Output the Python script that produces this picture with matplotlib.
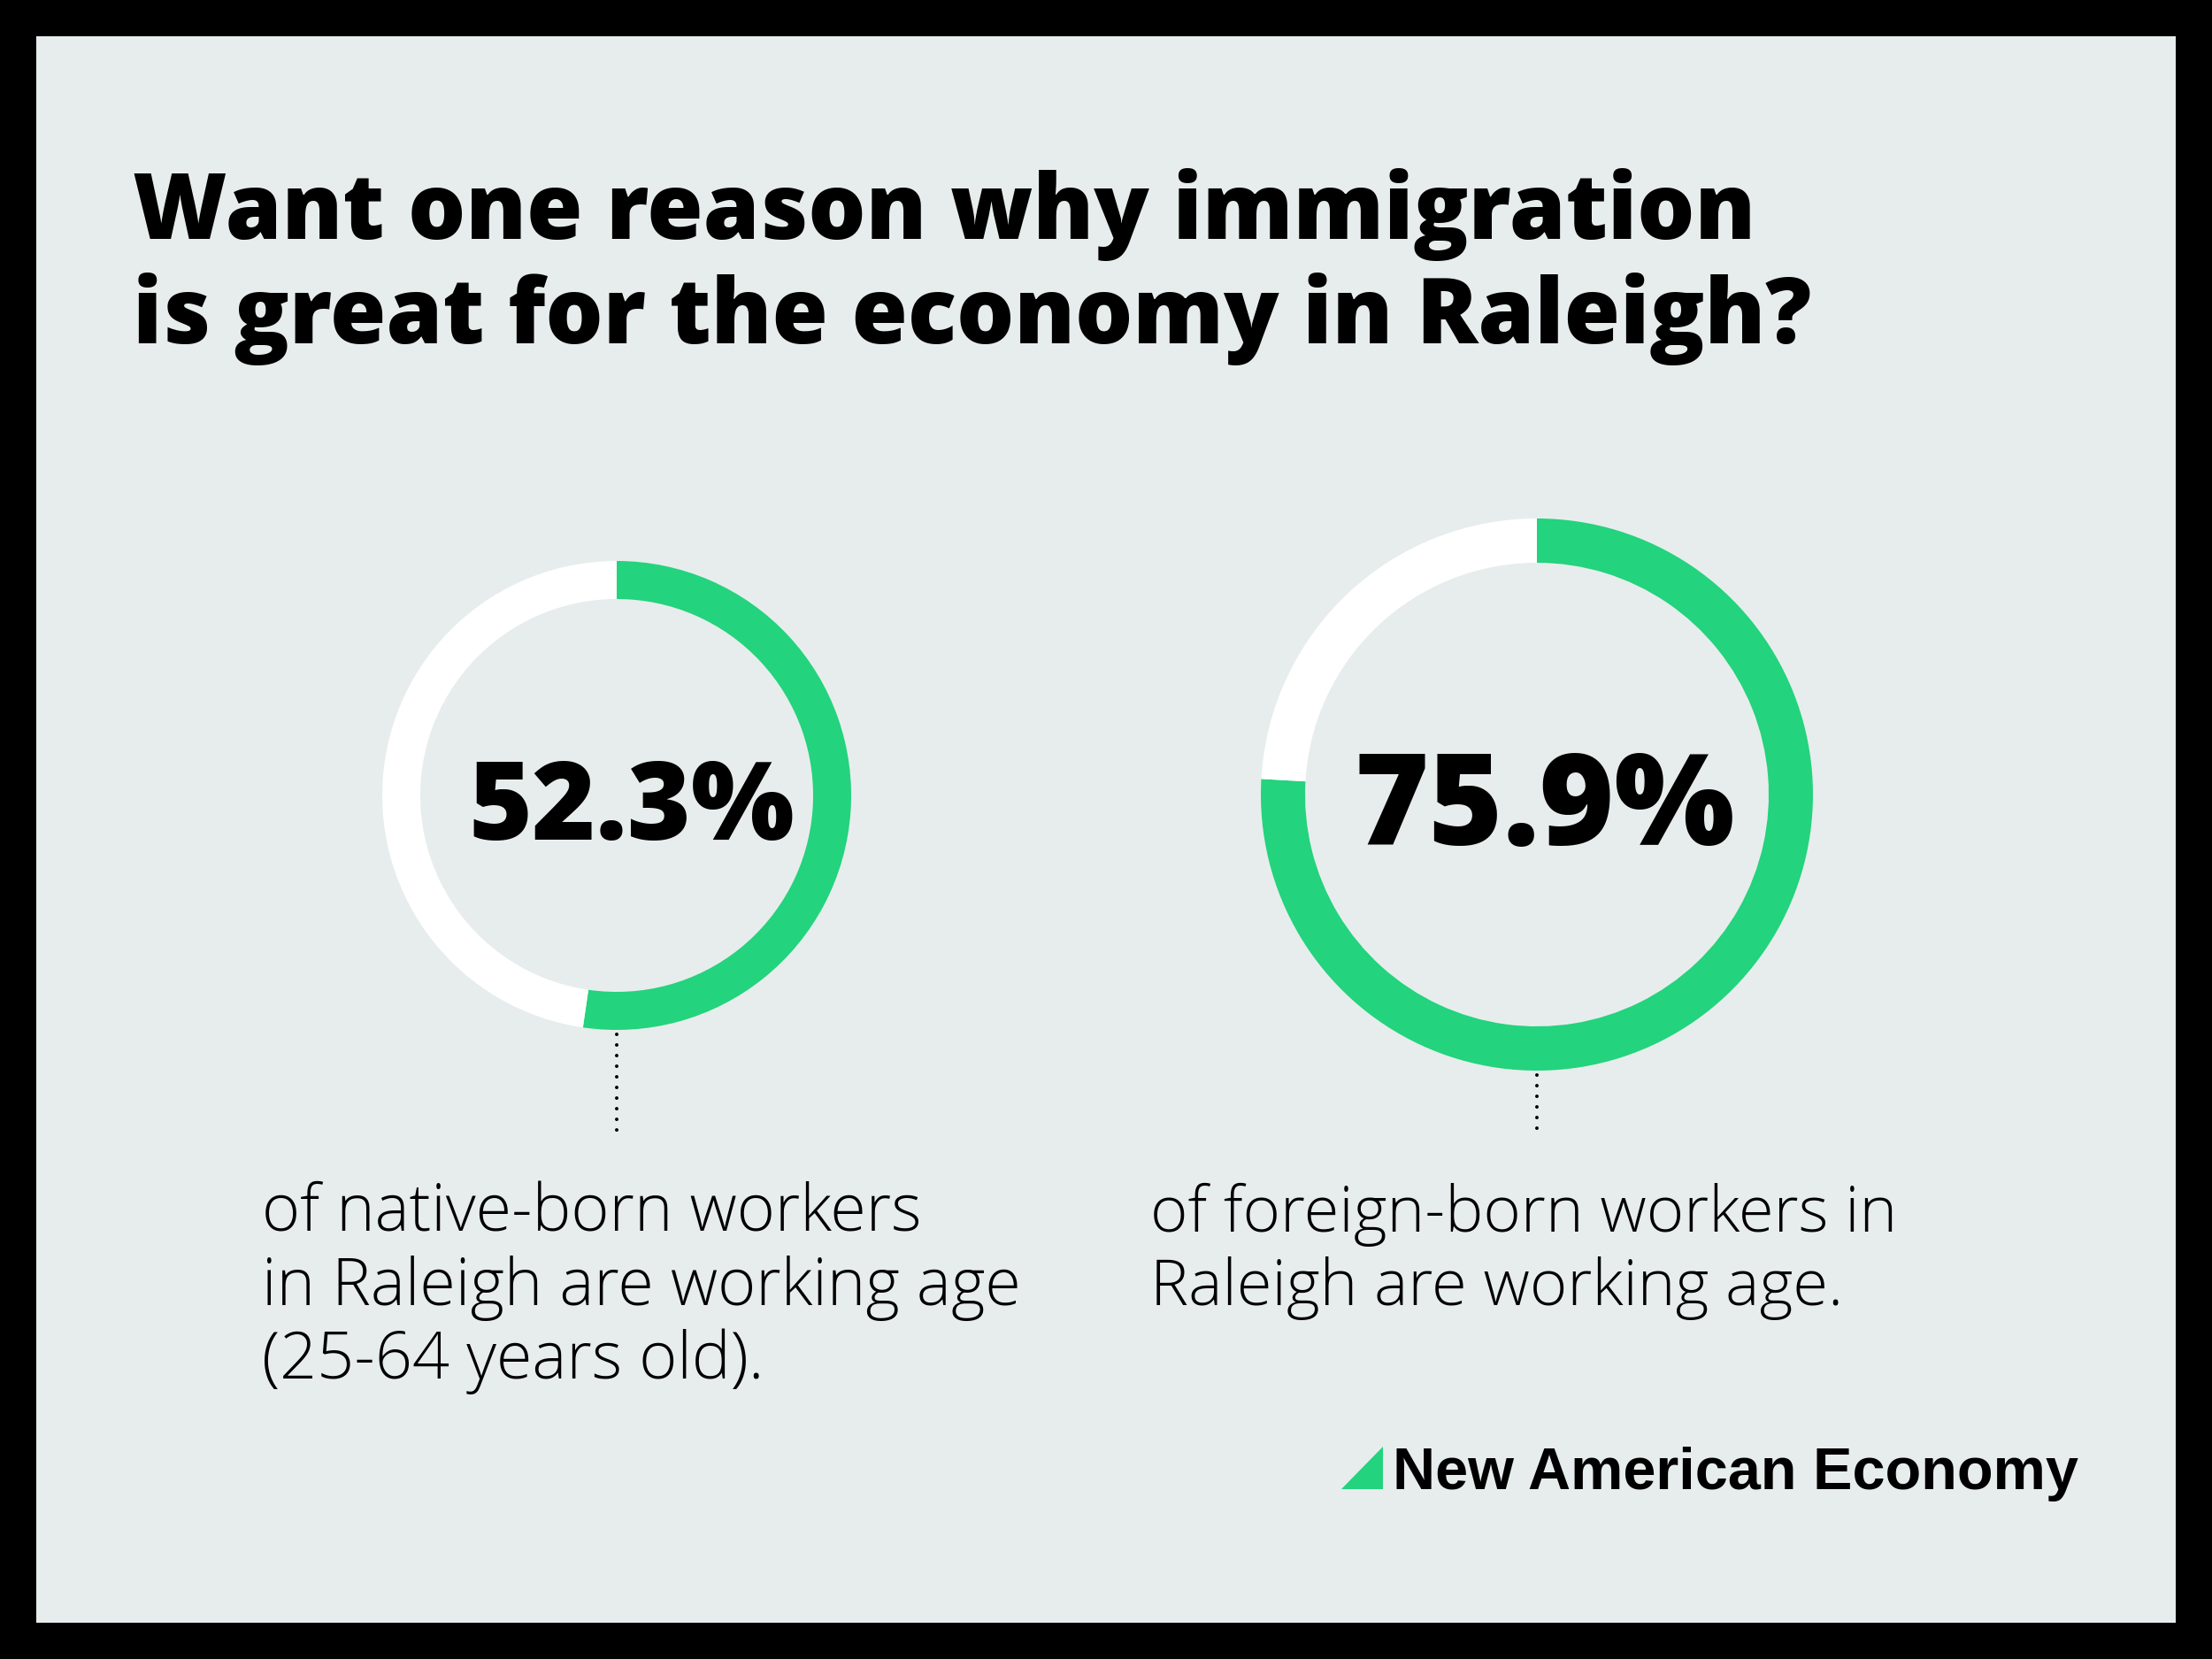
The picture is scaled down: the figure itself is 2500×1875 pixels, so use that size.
import matplotlib
matplotlib.use("Agg")
import matplotlib.pyplot as plt
from matplotlib.patches import Rectangle, Polygon

# ---------------- data ----------------
title_lines = ["Want one reason why immigration",
               "is great for the economy in Raleigh?"]
groups = ["native-born", "foreign-born"]
working_age_pct = [52.3, 75.9]
value_labels = ["52.3%", "75.9%"]
captions = [["of native-born workers", "in Raleigh are working age", "(25-64 years old)."],
            ["of foreign-born workers in", "Raleigh are working age."]]
brand = "New American Economy"

# ---------------- style / layout (image pixels, y downwards) ----------------
W, H, DPI = 2500, 1875, 100
BG = "#E7EDEC"
GREEN = "#23D37D"
BORDER = 41

donut_centers = [(697, 899), (1737, 898)]
donut_radii = [265, 312]
donut_widths = [43, 50]
dot_end_y = 1286

title_x, title_baselines, title_widths = 150, [270, 388], [1828, 1909]
value_boxes = [(529, 949, 369), (1530, 955, 430)]          # x-left, baseline, width
caption_x = [296, 1300]
caption_baselines = [1392, 1475, 1558]
caption_widths = [[742, 850, 577], [842, 788]]
logo_x, logo_base, logo_w = 1574, 1683, 775
tri = [(1516, 1683), (1563, 1683), (1563, 1635)]

TITLE_FONT = dict(family=["Open Sans", "Roboto", "DejaVu Sans"], weight=800)
BODY_FONT = dict(family=["Open Sans", "Roboto", "DejaVu Sans"], weight=300)
LOGO_FONT = dict(family=["Liberation Sans", "DejaVu Sans"], weight="bold")


def Y(y):
    return H - y


fig = plt.figure(figsize=(W / DPI, H / DPI), dpi=DPI, facecolor="black")
ax = fig.add_axes([0, 0, 1, 1])
ax.set_facecolor("black")
renderer = fig.canvas.get_renderer()

# light panel
ax.add_patch(Rectangle((BORDER, BORDER), W - 2 * BORDER, H - 2 * BORDER,
                       facecolor=BG, edgecolor="none", zorder=0))


def fitted_size(s, target_w, font, size0=50):
    t = ax.text(0, 0, s, fontsize=size0, **font)
    w = t.get_window_extent(renderer=renderer).width
    t.remove()
    return size0 * target_w / w


def block(x, baselines, lines, widths, font, color="black"):
    sizes = [fitted_size(s, w, font) for s, w in zip(lines, widths)]
    size = sum(sizes) / len(sizes)
    for s, yb in zip(lines, baselines):
        ax.text(x, Y(yb), s, fontsize=size, ha="left", va="baseline",
                color=color, zorder=5, **font)


# title
block(title_x, title_baselines, title_lines, title_widths, TITLE_FONT)

# donuts
for i, pct in enumerate(working_age_pct):
    cx, cy = donut_centers[i]
    r = donut_radii[i]
    ax.pie([pct, 100 - pct], colors=[GREEN, "white"], startangle=90,
           counterclock=False, center=(cx, Y(cy)), radius=r,
           wedgeprops=dict(width=donut_widths[i], linewidth=0))
    # value label
    xl, yb, tw = value_boxes[i]
    size = fitted_size(value_labels[i], tw, TITLE_FONT)
    ax.text(xl, Y(yb), value_labels[i], fontsize=size, ha="left",
            va="baseline", color="black", zorder=5, **TITLE_FONT)
    # dotted connector
    ax.plot([cx, cx], [Y(cy + r + 5), Y(dot_end_y)], color="black",
            lw=2.9, linestyle=(0, (0.001, 2.98)), dash_capstyle="round", zorder=4)
    # caption
    n = len(captions[i])
    block(caption_x[i], caption_baselines[:n], captions[i], caption_widths[i], BODY_FONT)

# logo
ax.add_patch(Polygon([(x, Y(y)) for x, y in tri], closed=True,
                     facecolor=GREEN, edgecolor="none", zorder=5))
size = fitted_size(brand, logo_w, LOGO_FONT)
ax.text(logo_x, Y(logo_base), brand, fontsize=size, ha="left", va="baseline",
        color="black", zorder=5, **LOGO_FONT)

ax.set_xlim(0, W)
ax.set_ylim(0, H)
ax.set_aspect("auto")
ax.axis("off")

fig.savefig("out.png", dpi=DPI, facecolor="black")
